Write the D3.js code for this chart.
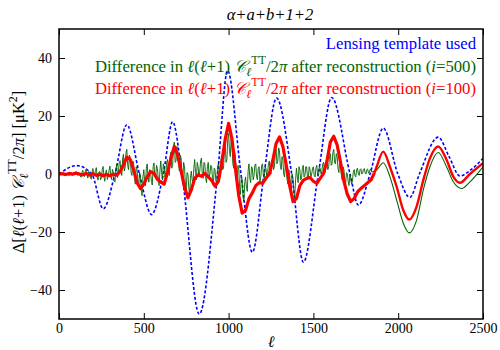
<!DOCTYPE html>
<html>
<head>
<meta charset="utf-8">
<script src="https://cdn.jsdelivr.net/npm/d3@7/dist/d3.min.js"></script>
<style>
  body { margin: 0; background: #fff; }
  svg text { font-family: "Liberation Serif", "Times New Roman", serif; }
</style>
</head>
<body>
<svg id="chart" width="500" height="350"></svg>
<script>
// lensing template (extrema and zero crossings)
const templateL = [0, 104, 193, 261, 330, 400, 474, 546, 615, 670, 725, 827, 935, 994, 1073, 1140, 1209, 1283, 1372, 1441, 1529, 1608, 1716, 1765, 1834, 1912, 1998, 2069, 2125, 2236, 2300, 2364, 2430, 2500];
const templateV = [0, 2.9, 0, -12, 0, 17, 0, -14, 0, 18, 0, -48.3, 0, 35.7, 0, -27, 0, 26.2, 0, -30.4, 0, 26.4, 0, -10.7, 0, 15.8, 0, -8.1, 0, 12.7, 6, -0.7, 1.5, 5.4];

// i=500 difference, noisy part, one value every 5 in l from 0 to 1850 (rows of 100 in l)
const noisyStep = 5;
const diff500Noisy = [
  0, -0.2, 0.3, 0.1, -0.2, 0.4, 0.5, -0.3, -0.4, 0.2, 0.2, -0.3, -0.6, 0.3, 0.7, -0.4, -0.2, 0.5, 0.4, -0.3,
  0.8, -0.2, -0.5, 0.6, 0.2, -0.7, -1.1, 0.4, 1.3, -0.2, -0.9, 0.8, 1.6, -0.5, -1.4, 0.9, 0.6, -1.0, -1.8, 0.7,
  1.9, -0.4, -0.7, 1.2, 2.2, -1.0, -2.1, 0.5, 0.9, -2.0, -1.3, 1.5, 2.6, -0.8, -2.5, 0.6, 1.4, -1.9, -0.8, 1.1,
  2.7, -0.5, -1.9, 1.6, 0.8, -2.2, -2.8, 1.4, 3.4, -1.2, 0.5, 3.8, 4.6, 0.8, -0.5, 5.2, 6.8, 1.0, 2.2, 7.5,
  8.5, 3.0, 1.5, 6.5, 5.8, 0.5, -0.5, 4.5, 3.8, -1.5, -3.5, 2.5, 1.8, -2.0, -4.5, 0.5, -0.5, -5.5, -7.5, -1.0,
  1.5, -2.5, -4.0, 2.0, 3.5, -1.0, -2.8, 1.5, 0.5, -2.5, -3.8, 2.5, 3.8, -0.5, -1.5, 3.0, 2.0, -1.5, -4.0, 1.0,
  4.5, 0.5, -2.0, 3.5, 2.5, -1.0, 0.5, 4.0, 5.0, 1.5, -0.5, 6.0, 7.5, 2.0, 3.0, 9.5, 11.0, 4.0, 4.5, 9.5,
  8.5, 3.0, 1.0, 6.5, 5.5, -0.5, -2.0, 4.0, 2.5, -3.5, -5.5, 0.5, 0.0, -4.5, -7.5, -1.5, 1.0, -2.0, -3.5, 2.0,
  5.0, 0.5, -2.0, 4.0, 2.5, -1.0, 1.0, 4.5, 5.5, 0.0, -1.5, 4.0, 3.5, -1.5, -3.0, 2.5, 4.0, -1.0, 0.0, 3.0,
  2.5, -1.5, -4.0, 2.0, 1.5, -2.5, -3.0, 2.5, 3.5, 0.0, -1.0, 5.0, 6.5, 1.5, 2.0, 8.0, 10.5, 4.0, 5.0, 12.0,
  14.0, 8.0, 6.0, 12.0, 11.0, 3.5, 2.0, 8.0, 6.0, -1.0, -3.5, 3.0, 1.5, -4.5, -7.0, -0.5, -2.0, -8.0, -9.5, -3.0,
  -1.0, -4.5, -6.0, 1.0, 3.5, -1.5, -3.0, 2.5, 2.0, -2.0, -0.5, 3.0, 3.5, -1.0, -2.0, 2.0, 2.5, -2.5, -1.0, 3.0,
  3.5, -0.5, -1.5, 2.5, 2.0, -1.0, 0.5, 3.5, 4.5, 1.0, 0.0, 4.5, 5.5, 1.5, 2.5, 7.0, 8.5, 3.5, 4.5, 9.0,
  8.0, 3.0, 1.5, 6.0, 5.0, 0.0, -1.0, 4.0, 2.5, -2.0, -3.5, 1.5, -0.5, -4.0, -5.5, 0.0, -1.5, -6.5, -8.0, -2.0,
  2.0, -1.0, -3.0, 2.5, 1.5, -2.0, -1.5, 2.0, 3.0, -1.0, -0.5, 2.5, 2.5, -1.0, -1.5, 2.5, 1.5, -1.0, 0.0, 2.0,
  2.5, -0.5, -1.0, 2.0, 3.0, -0.5, -0.5, 2.5, 2.0, 0.0, 1.0, 3.5, 4.0, 1.0, 0.5, 4.0, 5.0, 1.5, 2.5, 6.0,
  7.0, 3.0, 3.5, 7.5, 8.5, 4.0, 3.5, 7.0, 6.0, 2.0, 0.5, 4.5, 3.5, -0.5, -2.0, 2.5, 1.5, -2.0, -3.5, 0.5,
  0.0, -2.5, -4.0, 0.0, -1.5, -3.5, -2.5, 0.5, 1.5, -0.5, -1.0, 1.5, 2.0, 0.0, -0.5, 1.5, 1.8, 0.0, 0.2, 1.6,
  1.9, 0.4, 0.0, 1.5, 1.7, 0.3, 0.5, 1.6, 1.5, 0.6, 0.8
];
// i=500 smooth tail
const diff500TailL = [1850, 1873, 1912, 1951, 1991, 2030, 2065, 2108, 2148, 2187, 2236, 2285, 2325, 2374, 2423, 2500];
const diff500TailV = [0.8, 1.4, 3.9, -0.9, -9, -17, -20.3, -16, -5.5, 2.5, 7.4, 2.5, -2.7, -5, -2.7, 2.5];

// i=100 difference, noisy part, one value every 20 in l from 0 to 1860
const redStep = 20;
const diff100Noisy = [
  0, 0.1, -0.2, 0.2, -0.1, 0.3, 0, -0.3, 0.2, -0.4,
  0.1, -0.5, 0, -0.6, -0.2, -0.6, -0.1, -0.4, 0.8, 3.2,
  5.8, 5.0, 1.5, -3.0, -5.0, -3.5, -1.0, 0.8, 0.2, -1.8,
  -2.8, -3.5, 0.5, 5.5, 9.5, 6.5, 1.0, -4.5, -8.2, -5.5,
  -1.5, -0.3, -0.8, 0.2, -1.0, -2.2, -4.2, -2.5, 4.0, 12.0,
  17.5, 12.0, 2.0, -7.5, -13.5, -12.5, -8.5, -6.5, -4.0, -3.0,
  -3.2, -1.5, 0, 4.5, 10.5, 12.8, 9.5, 3.0, -4.0, -9.5,
  -8.5, -4.0, -2.2, -1.5, -1.2, -2.5, -3.2, -1.5, 0.2, 4.5,
  11.0, 13.0, 10.0, 4.0, -2.5, -7.0, -9.5, -8.5, -6.2, -5.0,
  -4.0, -3.0, -2.0, 0.4
];
const diff100TailL = [1860, 1873, 1912, 1951, 1991, 2030, 2065, 2108, 2148, 2187, 2236, 2285, 2325, 2364, 2423, 2500];
const diff100TailV = [0.4, 2.5, 7.7, 2.5, -4.4, -12.5, -15.7, -11.3, -2.1, 5.4, 9.5, 4.9, -0.9, -3, 0, 3.7];

const xTicks = [0, 500, 1000, 1500, 2000, 2500];
const yTicks = [-40, -20, 0, 20, 40];

const serif = '"Liberation Serif", "Times New Roman", serif';
const svg = d3.select('#chart').attr('font-family', serif);
const plotLeft = 59, plotRight = 483, plotTop = 29, plotBottom = 319;

const x = d3.scaleLinear().domain([0, 2500]).range([plotLeft, plotRight]);
const y = d3.scaleLinear().domain([-50, 50]).range([plotBottom, plotTop]);

svg.append('defs').append('clipPath').attr('id', 'plot')
  .append('rect').attr('x', plotLeft).attr('y', plotTop)
  .attr('width', plotRight - plotLeft).attr('height', plotBottom - plotTop);

// axes, ticks pointing inwards
svg.append('g')
  .attr('transform', 'translate(0,' + plotBottom + ')')
  .call(d3.axisBottom(x).tickValues(xTicks).tickFormat(d3.format('d')).tickSizeInner(-6).tickSizeOuter(0).tickPadding(4))
  .call(g => g.select('.domain').remove());
svg.append('g')
  .attr('transform', 'translate(0,' + plotTop + ')')
  .call(d3.axisTop(x).tickValues(xTicks).tickSizeInner(-6).tickSizeOuter(0).tickFormat(''))
  .call(g => g.select('.domain').remove());
svg.append('g')
  .attr('transform', 'translate(' + plotLeft + ',0)')
  .call(d3.axisLeft(y).tickValues(yTicks).tickSizeInner(-6).tickSizeOuter(0).tickPadding(7))
  .call(g => g.select('.domain').remove());
svg.append('g')
  .attr('transform', 'translate(' + plotRight + ',0)')
  .call(d3.axisRight(y).tickValues(yTicks).tickSizeInner(-6).tickSizeOuter(0).tickFormat(''))
  .call(g => g.select('.domain').remove());

svg.selectAll('g').attr('font-family', serif);
svg.selectAll('.tick text')
  .attr('font-size', 14)
  .attr('fill', '#000');
svg.selectAll('.tick line').attr('stroke', '#000').attr('stroke-width', 1);

// curves
const plot = svg.append('g').attr('clip-path', 'url(#plot)');

const smooth = d3.line()
  .x(d => x(d[0]))
  .y(d => y(d[1]))
  .curve(d3.curveMonotoneX);
const jagged = d3.line()
  .x(d => x(d[0]))
  .y(d => y(d[1]));

let templatePts = templateL.map((l, i) => [l, templateV[i]]);
let green1 = diff500Noisy.map((v, i) => [i * noisyStep, v]);
let green2 = diff500TailL.map((l, i) => [l, diff500TailV[i]]);
let red1 = diff100Noisy.map((v, i) => [i * redStep, v]);
let red2 = diff100TailL.map((l, i) => [l, diff100TailV[i]]);

plot.append('path')
  .attr('d', smooth(templatePts))
  .attr('fill', 'none')
  .attr('stroke', '#0000ff')
  .attr('stroke-width', 1.6)
  .attr('stroke-dasharray', '3,2');

plot.append('path')
  .attr('d', jagged(green1))
  .attr('fill', 'none')
  .attr('stroke', '#006400')
  .attr('stroke-width', 0.9);
plot.append('path')
  .attr('d', smooth(green2))
  .attr('fill', 'none')
  .attr('stroke', '#006400')
  .attr('stroke-width', 1.1);

plot.append('path')
  .attr('d', jagged(red1))
  .attr('fill', 'none')
  .attr('stroke', '#ff0000')
  .attr('stroke-width', 3.2)
  .attr('stroke-linejoin', 'round');
plot.append('path')
  .attr('d', smooth(red2))
  .attr('fill', 'none')
  .attr('stroke', '#ff0000')
  .attr('stroke-width', 2.4);

// frame
svg.append('rect')
  .attr('x', plotLeft).attr('y', plotTop)
  .attr('width', plotRight - plotLeft).attr('height', plotBottom - plotTop)
  .attr('fill', 'none')
  .attr('stroke', '#000')
  .attr('stroke-width', 1.5);

// title
svg.append('text')
  .attr('x', 270).attr('y', 20)
  .attr('text-anchor', 'middle')
  .attr('font-size', 16.6)
  .attr('font-style', 'italic')
  .text('α+a+b+1+2');

// legend
function legendLine(t, yPos, color, run) {
  let el = svg.append('text')
    .attr('x', 476).attr('y', yPos)
    .attr('text-anchor', 'end')
    .attr('font-size', 16.7)
    .attr('fill', color);
  if (!run) {
    el.text(t);
    return;
  }
  el.append('tspan').text('Difference in ');
  el.append('tspan').attr('font-style', 'italic').text('ℓ');
  el.append('tspan').text('(');
  el.append('tspan').attr('font-style', 'italic').text('ℓ');
  el.append('tspan').text('+1) ');
  el.append('tspan').attr('font-style', 'italic').text('𝒞');
  el.append('tspan').attr('font-style', 'italic').attr('font-size', 12).attr('dy', 4).text('ℓ');
  el.append('tspan').attr('font-size', 12).attr('dy', -12).text('TT');
  el.append('tspan').attr('dy', 8).text('/2');
  el.append('tspan').attr('font-style', 'italic').text('π');
  el.append('tspan').text(' after reconstruction (');
  el.append('tspan').attr('font-style', 'italic').text('i');
  el.append('tspan').text('=' + run + ')');
}
legendLine('Lensing template used', 49, '#0000ff', null);
legendLine('', 71.5, '#006400', 500);
legendLine('', 93.5, '#ff0000', 100);

// axis labels
svg.append('text')
  .attr('x', 271).attr('y', 347)
  .attr('text-anchor', 'middle')
  .attr('font-size', 16)
  .attr('font-style', 'italic')
  .text('ℓ');

let yl = svg.append('text')
  .attr('transform', 'translate(24,172) rotate(-90)')
  .attr('text-anchor', 'middle')
  .attr('font-size', 16.5);
yl.append('tspan').text('Δ[');
yl.append('tspan').attr('font-style', 'italic').text('ℓ');
yl.append('tspan').text('(');
yl.append('tspan').attr('font-style', 'italic').text('ℓ');
yl.append('tspan').text('+1) ');
yl.append('tspan').attr('font-style', 'italic').text('𝒞');
yl.append('tspan').attr('font-style', 'italic').attr('font-size', 12).attr('dy', 4).text('ℓ');
yl.append('tspan').attr('font-size', 12).attr('dy', -12).text('TT');
yl.append('tspan').attr('dy', 8).text('/2');
yl.append('tspan').attr('font-style', 'italic').text('π');
yl.append('tspan').text('] [μK');
yl.append('tspan').attr('font-size', 12).attr('dy', -7).text('2');
yl.append('tspan').attr('dy', 7).text(']');
</script>
</body>
</html>
